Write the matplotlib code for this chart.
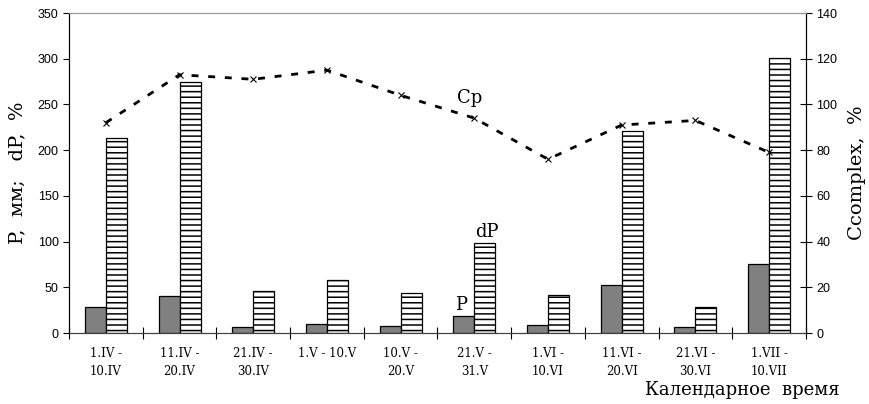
import matplotlib
matplotlib.use("Agg")
import matplotlib.pyplot as plt
import numpy as np

categories = ["1.IV -\n10.IV", "11.IV -\n20.IV", "21.IV -\n30.IV", "1.V - 10.V",
              "10.V -\n20.V", "21.V -\n31.V", "1.VI -\n10.VI", "11.VI -\n20.VI",
              "21.VI -\n30.VI", "1.VII -\n10.VII"]
p_mm = [28, 41, 7, 10, 8, 19, 9, 53, 7, 75]
dp_pct = [213, 275, 46, 58, 44, 98, 42, 221, 29, 301]
c_complex = [92, 113, 111, 115, 104, 94, 76, 91, 93, 79]

serif = ["DejaVu Serif"]
sans = ["Liberation Sans"]
plt.rcParams["hatch.linewidth"] = 1.1

fig = plt.figure(figsize=(8.7, 4.04), dpi=100)
ax = fig.add_axes([0.0793, 0.1757, 0.9264 - 0.0793, 0.9678 - 0.1757])
ax2 = ax.twinx()

x = np.arange(len(categories)) + 0.5
w = 0.285
ax.bar(x - w / 2, p_mm, width=w, color="#808080", edgecolor="black", linewidth=0.9, zorder=2)
ax.bar(x + w / 2, dp_pct, width=w, color="white", edgecolor="black", linewidth=0.9,
       hatch="---", zorder=2)

ax2.plot(x, c_complex, color="black", linestyle=(0, (2.5, 3.5)), linewidth=2,
         marker="x", markersize=5, markeredgewidth=0.8, zorder=3)

ax.set_xlim(0, len(categories))
ax.set_ylim(0, 350)
ax2.set_ylim(0, 140)
ax.set_yticks(np.arange(0, 351, 50))
ax2.set_yticks(np.arange(0, 141, 20))

ax.set_xticks(x)
ax.set_xticklabels(categories, fontfamily=serif, fontsize=8.5, linespacing=1.5)
ax.set_xticks(np.arange(len(categories) + 1), minor=True)
ax.tick_params(axis="x", which="major", length=0, pad=10)
ax.tick_params(axis="x", which="minor", direction="inout", length=8, width=0.8)

ax.tick_params(axis="y", direction="out", length=4, width=0.8, labelsize=9)
ax2.tick_params(axis="y", direction="inout", length=8, width=0.8, labelsize=9)
for lbl in ax.get_yticklabels() + ax2.get_yticklabels():
    lbl.set_fontfamily(sans)

for a in (ax, ax2):
    a.spines["top"].set_color("#999999")
    a.spines["bottom"].set_color("#404040")
    a.spines["left"].set_color("black")
    a.spines["right"].set_color("black")

ax.set_ylabel("P,  мм;   dP,  %", fontfamily=serif, fontsize=14, labelpad=8)
ax2.set_ylabel("Ccomplex,  %", fontfamily=serif, fontsize=14, labelpad=8)
fig.text(0.965, 0.035, "Календарное  время", fontfamily=serif, fontsize=13,
         ha="right", va="center")

ax2.text(x[5] - 0.06, 103, "Cp", fontfamily=serif, fontsize=13, ha="center", va="center")
ax.text(x[5] + 0.17, 110, "dP", fontfamily=serif, fontsize=13, ha="center", va="center")
ax.text(x[5] - 0.18, 31, "P", fontfamily=serif, fontsize=13, ha="center", va="center")

fig.savefig("out.png", dpi=100)
